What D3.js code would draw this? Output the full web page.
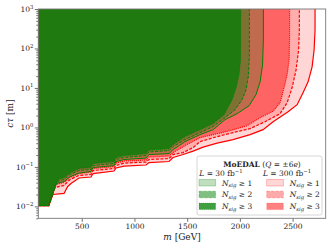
<!DOCTYPE html>
<html>
<head>
<meta charset="utf-8">
<script src="https://cdn.jsdelivr.net/npm/d3@7"></script>
<style>
  body { margin: 0; background: #fff; }
  text { font-family: "DejaVu Serif", "Liberation Serif", serif; fill: #222; }
</style>
</head>
<body>
<div id="chart"></div>
<script>
// exclusion contours, [m in GeV, c*tau in m]
var redN1 = [[88,0.0105],[187,0.0105],[227,0.0201],[332,0.0213],[367,0.032],[398,0.038],[474,0.0525],[588,0.0556],[607,0.068],[806,0.0788],[825,0.094],[901,0.105],[1110,0.112],[1138,0.129],[1328,0.137],[1366,0.173],[1461,0.206],[1556,0.252],[1651,0.318],[1784,0.402],[1935,0.492],[2097,0.658],[2220,0.88],[2315,1.40],[2457,2.51],[2543,3.77],[2599,7.56],[2647,14.3],[2685,34.3],[2704,92],[2713,295],[2713,1000]];
var redN2 = [[88,0.0105],[187,0.0105],[246,0.0302],[332,0.0339],[389,0.048],[474,0.0607],[588,0.0643],[607,0.081],[806,0.091],[825,0.108],[901,0.125],[1110,0.133],[1138,0.154],[1328,0.163],[1366,0.206],[1461,0.231],[1556,0.309],[1622,0.438],[1784,0.586],[1935,0.739],[2097,0.933],[2239,1.40],[2381,2.23],[2448,4.23],[2495,10.1],[2533,28.8],[2557,92],[2564,295],[2564,1000]];
var redN3 = [[88,0.0105],[187,0.0105],[256,0.036],[332,0.0404],[389,0.054],[474,0.068],[588,0.0743],[607,0.091],[806,0.102],[825,0.125],[901,0.141],[1110,0.149],[1138,0.178],[1328,0.188],[1366,0.231],[1480,0.347],[1622,0.552],[1746,0.658],[1907,0.830],[2068,1.11],[2192,1.77],[2315,2.58],[2381,4.23],[2419,10.1],[2448,21.5],[2467,51.5],[2471,165],[2471,1000]];
var greenN1 = [[88,0.0105],[187,0.0105],[256,0.038],[332,0.0428],[389,0.057],[474,0.070],[588,0.0766],[607,0.0966],[806,0.108],[825,0.137],[901,0.154],[1110,0.168],[1138,0.206],[1328,0.218],[1366,0.275],[1480,0.438],[1622,0.658],[1746,0.88],[1859,1.57],[1973,2.23],[2087,3.55],[2153,6.74],[2192,14.3],[2215,38.5],[2223,165],[2223,1000]];
var greenN2 = [[88,0.0105],[187,0.0105],[265,0.0428],[332,0.048],[389,0.0643],[474,0.081],[588,0.086],[607,0.108],[806,0.122],[825,0.154],[901,0.173],[1110,0.194],[1138,0.238],[1328,0.259],[1366,0.327],[1480,0.492],[1622,0.739],[1746,1.05],[1859,1.77],[1954,2.81],[2021,5.03],[2059,9.0],[2082,21.5],[2090,69],[2090,1000]];
var greenN3 = [[88,0.0105],[187,0.0105],[275,0.048],[332,0.054],[389,0.070],[474,0.091],[588,0.0966],[607,0.122],[806,0.137],[825,0.173],[901,0.194],[1110,0.218],[1138,0.267],[1328,0.292],[1366,0.368],[1480,0.586],[1622,0.88],[1746,1.25],[1850,2.11],[1926,5.03],[1964,10.1],[1992,21.5],[2006,51.5],[2008,165],[2008,1000]];

var xTicks = [500, 1000, 1500, 2000, 2500];
var yTicks = [0.01, 0.1, 1, 10, 100, 1000];
var yExp = ["\u22122", "\u22121", "0", "1", "2", "3"];
var lumiLabels = ["L = 30 fb", "L = 300 fb"];
var nsigLabels = ["1", "2", "3"];

// plot frame in pixels (avoid the name "top", it is window.top)
var W = 332, H = 249;
var pLeft = 38.3, pRight = 325.7, pTop = 9, pBottom = 218.3;

var svg = d3.select("#chart").append("svg")
    .attr("width", W).attr("height", H);

var x = d3.scaleLinear().domain([88, 2814]).range([pLeft, pRight]);
var y = d3.scaleLog().domain([0.005, 1000]).range([pBottom, pTop]);

svg.append("clipPath").attr("id", "clip")
  .append("rect").attr("x", pLeft).attr("y", pTop)
    .attr("width", pRight - pLeft).attr("height", pBottom - pTop);

// drawing order: outermost (light red) first, dark green last
var curves = [
  {data: redN1,   fill: "#ffd6d6", stroke: "#ff0000", dash: null,    lw: 1.2},
  {data: redN2,   fill: "#ffadad", stroke: "#ff0000", dash: "3,1.5", lw: 1.2},
  {data: redN3,   fill: "#ff6464", stroke: "#ff0000", dash: "1,1",   lw: 1.2},
  {data: greenN1, fill: "#c06b4d", stroke: "#008000", dash: null,    lw: 1.0},
  {data: greenN2, fill: "#7d7233", stroke: "#008000", dash: "3,1.5", lw: 1.0},
  {data: greenN3, fill: "#1f7a10", stroke: "#008000", dash: "1,1",   lw: 1.0}
];

var line = d3.line()
  .x(function(d) { return x(d[0]); })
  .y(function(d) { return y(d[1]); });

var plot = svg.append("g").attr("clip-path", "url(#clip)");

// filled regions: left of / above each contour
curves.forEach(function(c) {
  var last = c.data[c.data.length - 1];
  var poly = c.data.concat([[88, last[1]], [88, c.data[0][1]]]);
  plot.append("path")
    .attr("d", line(poly) + "Z")
    .attr("fill", c.fill)
    .attr("stroke", "none");
});

curves.forEach(function(c) {
  plot.append("path")
    .attr("d", line(c.data))
    .attr("fill", "none")
    .attr("stroke", c.stroke)
    .attr("stroke-width", c.lw)
    .attr("stroke-dasharray", c.dash);
});

// axes
var xAxis = svg.append("g")
  .attr("transform", "translate(0," + pBottom + ")")
  .call(d3.axisBottom(x).tickValues(xTicks).tickFormat(d3.format("d"))
    .tickSize(3.5).tickPadding(2).tickSizeOuter(0));
xAxis.selectAll("text").style("font-size", "7.5px").attr("font-family", "DejaVu Serif").attr("fill", "#222");

var minor = [];
[0.001, 0.01, 0.1, 1, 10, 100].forEach(function(dec) {
  for (var k = 2; k <= 9; k++) if (dec * k >= 0.005 && dec * k <= 1000) minor.push(dec * k);
});

svg.append("g")
  .attr("transform", "translate(" + pLeft + ",0)")
  .call(d3.axisLeft(y).tickValues(yTicks).tickSize(3.5).tickFormat("").tickSizeOuter(0));
svg.append("g")
  .attr("transform", "translate(" + pLeft + ",0)")
  .call(d3.axisLeft(y).tickValues(minor).tickSize(2).tickFormat("").tickSizeOuter(0));

svg.selectAll(".tick line").attr("stroke", "#333").attr("stroke-width", 0.7);
svg.selectAll(".domain").attr("stroke", "none");

yTicks.forEach(function(v, i) {
  var t = svg.append("text")
    .attr("x", pLeft - 5)
    .attr("y", y(v) + 3)
    .attr("text-anchor", "end")
    .style("font-size", "7.5px");
  t.append("tspan").text("10");
  t.append("tspan").attr("dy", -3.5).style("font-size", "5.3px").text(yExp[i]);
});

// frame
svg.append("rect")
  .attr("x", pLeft).attr("y", pTop)
  .attr("width", pRight - pLeft).attr("height", pBottom - pTop)
  .attr("fill", "none").attr("stroke", "#777").attr("stroke-width", 0.9);

// axis titles
var xl = svg.append("text")
  .attr("x", (pLeft + pRight) / 2).attr("y", 240)
  .attr("text-anchor", "middle").style("font-size", "9px");
xl.append("tspan").style("font-style", "italic").text("m");
xl.append("tspan").text(" [GeV]");

var yl = svg.append("text")
  .attr("transform", "translate(13," + ((pTop + pBottom) / 2) + ") rotate(-90)")
  .attr("text-anchor", "middle").style("font-size", "9px");
yl.append("tspan").style("font-style", "italic").text("c\u03c4");
yl.append("tspan").text(" [m]");

// legend
var lg = svg.append("g");
lg.append("rect")
  .attr("x", 197).attr("y", 156).attr("width", 125).attr("height", 59)
  .attr("rx", 2).attr("fill", "#fff").attr("fill-opacity", 0.85)
  .attr("stroke", "#ccc").attr("stroke-width", 0.8);

var title = lg.append("text").attr("x", 262).attr("y", 166.5)
  .attr("text-anchor", "middle").style("font-size", "7.5px");
title.append("tspan").style("font-weight", "bold").text("MoEDAL");
title.append("tspan").text(" (");
title.append("tspan").style("font-style", "italic").text("Q");
title.append("tspan").text(" = \u00b16");
title.append("tspan").style("font-style", "italic").text("e");
title.append("tspan").text(")");

[221, 287].forEach(function(cx, i) {
  var t = lg.append("text").attr("x", cx).attr("y", 175.5)
    .attr("text-anchor", "middle").style("font-size", "7.5px");
  t.append("tspan").style("font-style", "italic").text("L");
  t.append("tspan").text(lumiLabels[i].slice(1));
  t.append("tspan").attr("dy", -3).style("font-size", "5.3px").text("\u22121");
});

var legendFill = [["#bfdfbf", "#7fbf7f", "#40a040"], ["#ffd6d6", "#ffaaaa", "#ff8080"]];
var legendStroke = ["#008000", "#ff0000"];
var dashes = [null, "3,1.5", "1,1"];
[199, 266.7].forEach(function(px, col) {
  nsigLabels.forEach(function(n, row) {
    var cy = 182.7 + row * 11.8;
    lg.append("rect")
      .attr("x", px).attr("y", cy - 3.3).attr("width", 16.7).attr("height", 6.6)
      .attr("fill", legendFill[col][row])
      .attr("stroke", legendStroke[col]).attr("stroke-opacity", 0.3)
      .attr("stroke-width", 0.8).attr("stroke-dasharray", dashes[row]);
    var t = lg.append("text").attr("x", px + 23).attr("y", cy + 2.8)
      .style("font-size", "7.5px");
    t.append("tspan").style("font-style", "italic").text("N");
    t.append("tspan").attr("dy", 1.5).style("font-size", "5.3px").style("font-style", "italic").text("sig");
    t.append("tspan").attr("dy", -1.5).text(" \u2265 " + n);
  });
});
</script>
</body>
</html>
